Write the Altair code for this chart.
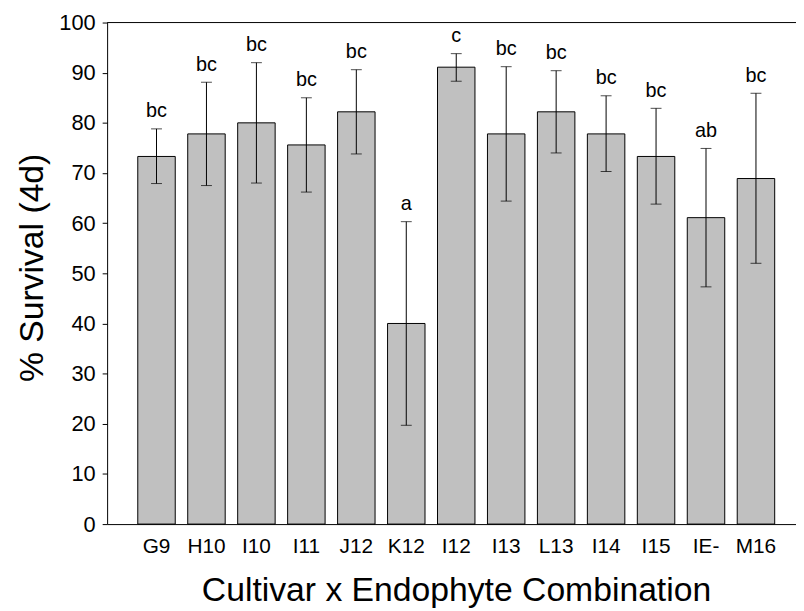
import altair as alt
import pandas as pd

cats = ["G9", "H10", "I10", "I11", "J12", "K12", "I12", "I13", "L13", "I14", "I15", "IE-", "M16"]
means = [73.3, 77.8, 80.0, 75.6, 82.2, 40.0, 91.1, 77.8, 82.2, 77.8, 73.3, 61.1, 68.9]
lower = [67.9, 67.5, 68.0, 66.2, 73.8, 19.7, 88.3, 64.4, 74.0, 70.3, 63.8, 47.3, 52.0]
upper = [78.8, 88.1, 92.0, 85.0, 90.6, 60.3, 93.8, 91.2, 90.4, 85.4, 82.9, 74.9, 85.9]
letters = ["bc", "bc", "bc", "bc", "bc", "a", "c", "bc", "bc", "bc", "bc", "ab", "bc"]
y_ticks = list(range(0, 101, 10))

df = pd.DataFrame({"cat": cats, "mean": means, "lower": lower, "upper": upper, "letter": letters})

W = 695
H = 506
FONT = "Liberation Sans"

xscale = alt.Scale(domain=cats, paddingInner=0.25, paddingOuter=0.52, align=0.59)
yscale = alt.Scale(domain=[0, 100], nice=False)

xaxis = alt.Axis(
    title="Cultivar x Endophyte Combination",
    labelAngle=0, ticks=False, tickSize=0, labelPadding=29, labelBaseline="alphabetic",
    labelFontSize=21, labelFont=FONT, labelColor="black",
    titleFontSize=34, titleFont=FONT, titleFontWeight="normal", titleColor="black",
    titleX=352, titleY=77, titleBaseline="alphabetic", titleAnchor="middle",
    domainColor="black", domainWidth=1, grid=False,
)
yaxis = alt.Axis(
    title="% Survival (4d)", values=y_ticks,
    tickSize=5, tickColor="black", labelPadding=7, labelFontSize=22, labelFont=FONT,
    labelColor="black",
    titleFontSize=34, titleFont=FONT, titleFontWeight="normal", titleColor="black",
    titleX=-65, titleY=247, titleBaseline="alphabetic", titleAngle=270,
    domainColor="black", domainWidth=1, grid=False,
)

base = alt.Chart(df)

bars = base.mark_bar(fill="#c0c0c0", stroke="black", strokeWidth=1).encode(
    x=alt.X("cat:N", scale=xscale, axis=xaxis, sort=cats),
    y=alt.Y("mean:Q", scale=yscale, axis=yaxis),
)

err = base.mark_rule(color="black", strokeWidth=1).encode(
    x=alt.X("cat:N", sort=cats),
    y="lower:Q",
    y2="upper:Q",
)

caps_hi = base.mark_tick(orient="horizontal", size=11, thickness=1, color="black").encode(
    x=alt.X("cat:N", sort=cats),
    y="upper:Q",
)
caps_lo = base.mark_tick(orient="horizontal", size=11, thickness=1, color="black").encode(
    x=alt.X("cat:N", sort=cats),
    y="lower:Q",
)

labels = base.mark_text(font=FONT, fontSize=20, color="black", baseline="alphabetic", dy=-11.5).encode(
    x=alt.X("cat:N", sort=cats),
    y="upper:Q",
    text="letter:N",
)

topline = alt.Chart(pd.DataFrame({"v": [100]})).mark_rule(color="black", strokeWidth=1).encode(
    y=alt.Y("v:Q"),
    x=alt.value(0),
    x2=alt.value(W),
)

chart = alt.layer(bars, err, caps_hi, caps_lo, labels, topline).properties(
    width=W, height=H,
    autosize=alt.AutoSizeParams(type="none"),
    padding={"left": 100, "top": 12, "right": 0, "bottom": 85},
    background="white",
).configure_view(stroke=None)

chart.save("out.html", embed_options={"renderer": "svg", "actions": False})
